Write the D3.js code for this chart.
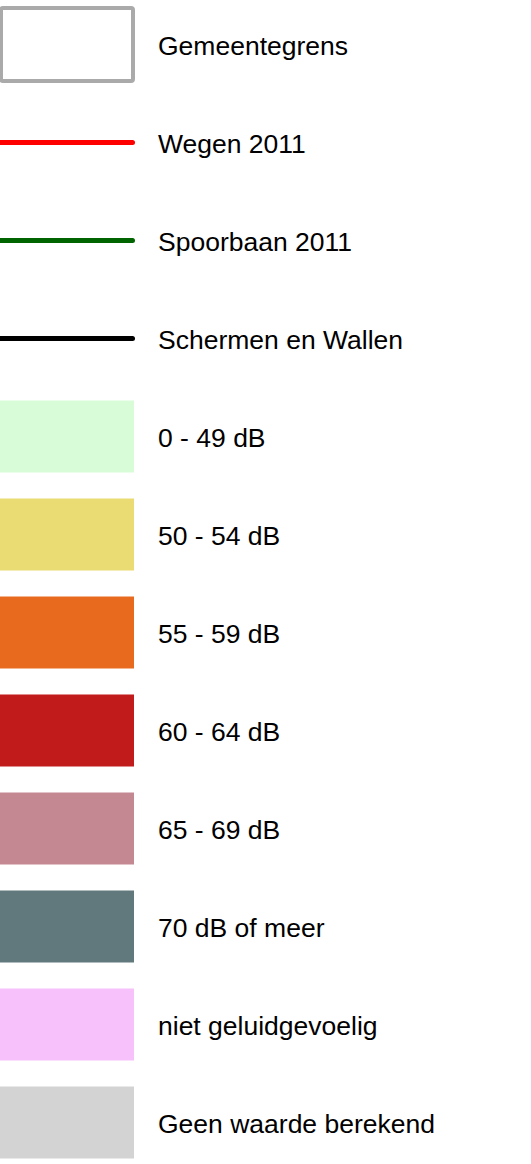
<!DOCTYPE html>
<html>
<head>
<meta charset="utf-8">
<script src="https://cdn.jsdelivr.net/npm/d3@7"></script>
<style>
  html, body { margin: 0; padding: 0; background: #ffffff; }
  svg { display: block; }
</style>
</head>
<body>
<div id="chart"></div>
<script>
// Legend data
const labels = [
  "Gemeentegrens",
  "Wegen 2011",
  "Spoorbaan 2011",
  "Schermen en Wallen",
  "0 - 49 dB",
  "50 - 54 dB",
  "55 - 59 dB",
  "60 - 64 dB",
  "65 - 69 dB",
  "70 dB of meer",
  "niet geluidgevoelig",
  "Geen waarde berekend"
];
const symbolTypes = ["box", "line", "line", "line", "fill", "fill", "fill", "fill", "fill", "fill", "fill", "fill"];
const symbolColors = ["#aaaaaa", "#ff0000", "#006400", "#000000", "#d8fcd7", "#eadb73", "#e86a1e", "#c21b1b", "#c48893", "#61787c", "#f7c1fb", "#d3d3d3"];

const W = 531, H = 1164;
const svg = d3.select("#chart").append("svg").attr("width", W).attr("height", H);

const y = d3.scalePoint().domain(labels).range([44.5, 44.5 + 98 * (labels.length - 1)]);

const items = labels.map((l, i) => ({label: l, type: symbolTypes[i], color: symbolColors[i]}));

const g = svg.selectAll("g.item").data(items).join("g")
  .attr("class", "item")
  .attr("transform", d => `translate(0,${y(d.label)})`);

g.filter(d => d.type === "box").append("rect")
  .attr("x", 1).attr("y", -36.5).attr("width", 132).attr("height", 73)
  .attr("rx", 2).attr("fill", "#ffffff")
  .attr("stroke", d => d.color).attr("stroke-width", 4);

g.filter(d => d.type === "line").append("line")
  .attr("x1", -5).attr("x2", 132.5).attr("y1", 0).attr("y2", 0)
  .attr("stroke", d => d.color).attr("stroke-width", 5)
  .attr("stroke-linecap", "round");

g.filter(d => d.type === "fill").append("rect")
  .attr("x", 0).attr("y", -36).attr("width", 134).attr("height", 72)
  .attr("fill", d => d.color);

g.append("text")
  .attr("x", 158).attr("y", 10.5)
  .attr("font-family", "'Liberation Sans', Arial, Helvetica, sans-serif")
  .attr("font-size", 26.5)
  .attr("fill", "#000000")
  .text(d => d.label);
</script>
</body>
</html>
